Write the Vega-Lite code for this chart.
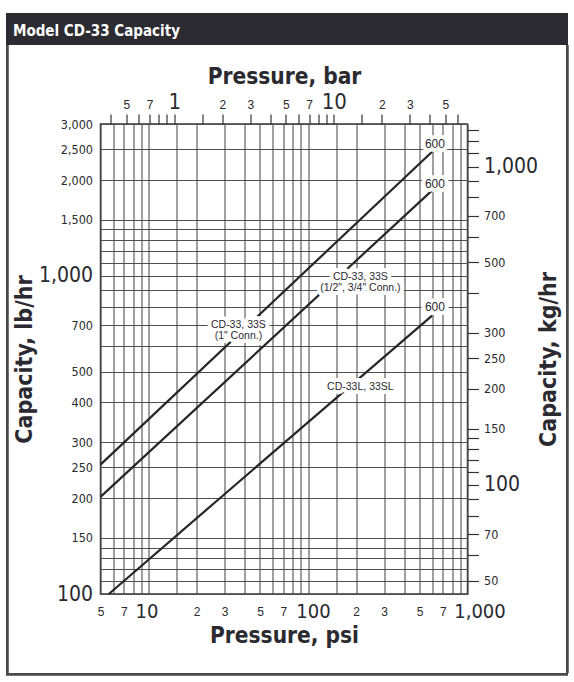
{
  "$schema": "https://vega.github.io/schema/vega-lite/v6.json",
  "padding": {"left": 6, "top": 13, "right": 0, "bottom": 0},
  "background": "white",
  "spacing": 0,
  "bounds": "flush",
  "config": {
    "view": {"stroke": null},
    "axis": {"labelColor": "#2a2a30", "titleColor": "#2a2a30", "domain": false, "labelOverlap": false, "labelFlush": false, "labelBound": false}
  },
  "vconcat": [
    {
      "width": 562,
      "height": 32,
      "view": {"fill": "#2d2b32", "stroke": null},
      "data": {"values": [{"label": "Model CD-33 Capacity"}]},
      "mark": {"type": "text", "align": "left", "baseline": "middle", "color": "white", "font": "DejaVu Sans Condensed, sans-serif", "fontWeight": "bold", "fontSize": 15, "dx": 7, "dy": 2},
      "encoding": {
        "x": {"field": "label", "type": "nominal", "scale": {"type": "point", "padding": 0, "align": 0}, "axis": null},
        "text": {"field": "label"}
      }
    },
    {
      "bounds": "flush",
      "spacing": 628,
      "vconcat": [
        {
          "bounds": "flush",
          "spacing": 91.5,
          "hconcat": [
            {
              "width": 2.5,
              "height": 628,
              "view": {"fill": "#4a4a4a", "stroke": null},
              "data": {"values": [{"part": "frame"}]},
              "mark": {"type": "rect", "fill": "#4a4a4a"}
            },
            {
              "bounds": "flush",
              "spacing": 98.5,
              "center": true,
              "hconcat": [
                {
                  "width": 367,
                  "height": 470,
                  "view": {"stroke": "#333333", "strokeWidth": 1.5},
                  "layer": [
                    {
                      "data": {"values": [
                        {"series": "CD-33, 33S (1\" Conn.)", "psi": 5, "lb": 255},
                        {"series": "CD-33, 33S (1\" Conn.)", "psi": 600, "lb": 2455},
                        {"series": "CD-33, 33S (1/2\", 3/4\" Conn.)", "psi": 5, "lb": 202},
                        {"series": "CD-33, 33S (1/2\", 3/4\" Conn.)", "psi": 600, "lb": 1855},
                        {"series": "CD-33L, 33SL", "psi": 5.64, "lb": 100},
                        {"series": "CD-33L, 33SL", "psi": 28, "lb": 200},
                        {"series": "CD-33L, 33SL", "psi": 600, "lb": 750}
                      ]},
                      "mark": {"type": "line", "color": "#262626", "strokeWidth": 2.2},
                      "encoding": {
                        "x": {
                          "field": "psi", "type": "quantitative",
                          "scale": {"type": "log", "domain": [5, 1000], "nice": false},
                          "axis": {
                            "orient": "bottom",
                            "title": "Pressure, psi",
                            "values": [5, 6, 7, 8, 9, 10, 15, 20, 30, 40, 50, 60, 70, 80, 90, 100, 150, 200, 300, 400, 500, 600, 700, 800, 900, 1000],
                            "labelExpr": "datum.value==1000?'1,000':(datum.value==10||datum.value==100)?''+datum.value:(datum.value==5||datum.value==50||datum.value==500)?'5':(datum.value==7||datum.value==70||datum.value==700)?'7':(datum.value==20||datum.value==200)?'2':(datum.value==30||datum.value==300)?'3':''",
                            "labelFontSize": {"condition": {"test": "datum.value==10||datum.value==100||datum.value==1000", "value": 20}, "value": 12},
                            "labelFont": {"condition": {"test": "datum.value==10||datum.value==100||datum.value==1000", "value": "DejaVu Sans Condensed, sans-serif"}, "value": "Liberation Sans, Arial, sans-serif"},
                            "labelOffset": {"condition": [{"test": "datum.value==1000", "value": 12}, {"test": "datum.value==100", "value": 5}, {"test": "datum.value==10", "value": -2}], "value": 0},
                            "labelBaseline": "middle",
                            "labelPadding": 17,
                            "ticks": false,
                            "tickSize": 0,
                            "grid": true,
                            "gridColor": "#505050",
                            "gridWidth": 1.1,
                            "titleFont": "DejaVu Sans Condensed, sans-serif",
                            "titleFontWeight": "bold",
                            "titleFontSize": 22.5,
                            "titlePadding": 3
                          }
                        },
                        "y": {
                          "field": "lb", "type": "quantitative",
                          "scale": {"type": "log", "domain": [100, 3000], "nice": false},
                          "axis": {
                            "orient": "left",
                            "title": "Capacity, lb/hr",
                            "values": [100, 110, 120, 130, 140, 150, 200, 250, 300, 400, 500, 600, 700, 800, 900, 1000, 1100, 1200, 1300, 1400, 1500, 2000, 2500, 3000],
                            "labelExpr": "indexof([100,150,200,250,300,400,500,700,1000,1500,2000,2500,3000], datum.value) >= 0 ? format(datum.value, ',') : ''",
                            "labelFontSize": {"condition": {"test": "datum.value==100||datum.value==1000", "value": 21}, "value": 12.5},
                            "labelFont": "DejaVu Sans Condensed, sans-serif",
                            "labelPadding": 8,
                            "ticks": false,
                            "tickSize": 0,
                            "grid": true,
                            "gridColor": "#505050",
                            "gridWidth": 1.1,
                            "titleFont": "DejaVu Sans Condensed, sans-serif",
                            "titleFontWeight": "bold",
                            "titleFontSize": 23,
                            "titlePadding": 2
                          }
                        },
                        "detail": {"field": "series"}
                      }
                    },
                    {
                      "data": {"name": "labels", "values": [
                        {"text": "CD-33, 33S\n(1\" Conn.)", "psi": 36.6, "lb": 700, "size": "s"},
                        {"text": "CD-33, 33S\n(1/2\", 3/4\" Conn.)", "psi": 213, "lb": 990, "size": "s"},
                        {"text": "CD-33L, 33SL", "psi": 213, "lb": 447, "size": "s"},
                        {"text": "600", "psi": 625, "lb": 2590, "size": "m"},
                        {"text": "600", "psi": 625, "lb": 1950, "size": "m"},
                        {"text": "600", "psi": 625, "lb": 800, "size": "m"}
                      ]},
                      "mark": {"type": "text", "font": "Liberation Sans, Arial, sans-serif", "lineBreak": "\n", "lineHeight": 11, "align": "center", "baseline": "middle", "fill": "white", "stroke": "white", "strokeWidth": 8, "strokeJoin": "round"},
                      "encoding": {
                        "x": {"field": "psi", "type": "quantitative", "scale": {"type": "log", "domain": [5, 1000], "nice": false}, "axis": null},
                        "y": {"field": "lb", "type": "quantitative", "scale": {"type": "log", "domain": [100, 3000], "nice": false}, "axis": null},
                        "size": {"field": "size", "type": "nominal", "scale": {"domain": ["s", "m"], "range": [10.5, 12]}, "legend": null},
                        "text": {"field": "text"}
                      }
                    },
                    {
                      "data": {"name": "labels"},
                      "mark": {"type": "text", "font": "Liberation Sans, Arial, sans-serif", "lineBreak": "\n", "lineHeight": 11, "align": "center", "baseline": "middle", "fill": "#2a2a30"},
                      "encoding": {
                        "x": {"field": "psi", "type": "quantitative", "scale": {"type": "log", "domain": [5, 1000], "nice": false}, "axis": null},
                        "y": {"field": "lb", "type": "quantitative", "scale": {"type": "log", "domain": [100, 3000], "nice": false}, "axis": null},
                        "size": {"field": "size", "type": "nominal", "scale": {"domain": ["s", "m"], "range": [10.5, 12]}, "legend": null},
                        "text": {"field": "text"}
                      }
                    },
                    {
                      "data": {"values": [{"bar": 0.34474, "kg": 45.3592}, {"bar": 68.9474, "kg": 1360.78}]},
                      "mark": {"type": "point", "opacity": 0},
                      "encoding": {
                        "x": {
                          "field": "bar", "type": "quantitative",
                          "scale": {"type": "log", "domain": [0.34474, 68.9474], "nice": false},
                          "axis": {
                            "orient": "top",
                            "title": "Pressure, bar",
                            "values": [0.4, 0.5, 0.6, 0.7, 0.8, 0.9, 1, 1.5, 2, 3, 4, 5, 6, 7, 8, 9, 10, 15, 20, 30, 40, 50, 60],
                            "labelExpr": "(datum.value==0.5||datum.value==5||datum.value==50)?'5':(datum.value==0.7||datum.value==7)?'7':datum.value==1?'1':datum.value==10?'10':(datum.value==2||datum.value==20)?'2':(datum.value==3||datum.value==30)?'3':''",
                            "labelFontSize": {"condition": {"test": "datum.value==1||datum.value==10", "value": 22}, "value": 12},
                            "labelFont": {"condition": {"test": "datum.value==1||datum.value==10", "value": "DejaVu Sans Condensed, sans-serif"}, "value": "Liberation Sans, Arial, sans-serif"},
                            "labelBaseline": "alphabetic",
                            "labelPadding": 6,
                            "ticks": true,
                            "tickSize": 10,
                            "tickColor": "#333333",
                            "tickWidth": 1.2,
                            "grid": false,
                            "titleFont": "DejaVu Sans Condensed, sans-serif",
                            "titleFontWeight": "bold",
                            "titleFontSize": 22.5,
                            "titlePadding": 2
                          }
                        },
                        "y": {
                          "field": "kg", "type": "quantitative",
                          "scale": {"type": "log", "domain": [45.3592, 1360.78], "nice": false},
                          "axis": {
                            "orient": "right",
                            "title": "Capacity, kg/hr",
                            "values": [50, 60, 70, 80, 90, 100, 110, 120, 130, 140, 150, 200, 250, 300, 400, 500, 600, 700, 800, 900, 1000, 1100, 1200, 1300],
                            "labelExpr": "indexof([50,70,100,150,200,250,300,500,700,1000], datum.value) >= 0 ? format(datum.value, ',') : ''",
                            "labelFontSize": {"condition": {"test": "datum.value==100||datum.value==1000", "value": 21}, "value": 12.5},
                            "labelFont": "DejaVu Sans Condensed, sans-serif",
                            "labelPadding": 5,
                            "ticks": true,
                            "tickSize": 11,
                            "tickColor": "#333333",
                            "tickWidth": 1.2,
                            "grid": false,
                            "titleAngle": 270,
                            "titleBaseline": "top",
                            "titleFont": "DejaVu Sans Condensed, sans-serif",
                            "titleFontWeight": "bold",
                            "titleFontSize": 23,
                            "titlePadding": 0
                          }
                        }
                      }
                    }
                  ],
                  "resolve": {"scale": {"x": "independent", "y": "independent"}}
                },
                {
                  "width": 2.5,
                  "height": 628,
                  "view": {"fill": "#4a4a4a", "stroke": null},
                  "data": {"values": [{"part": "frame"}]},
                  "mark": {"type": "rect", "fill": "#4a4a4a"}
                }
              ]
            }
          ]
        },
        {
          "width": 562,
          "height": 2.5,
          "view": {"fill": "#4a4a4a", "stroke": null},
          "data": {"values": [{"part": "frame"}]},
          "mark": {"type": "rect", "fill": "#4a4a4a"}
        }
      ]
    }
  ]
}
